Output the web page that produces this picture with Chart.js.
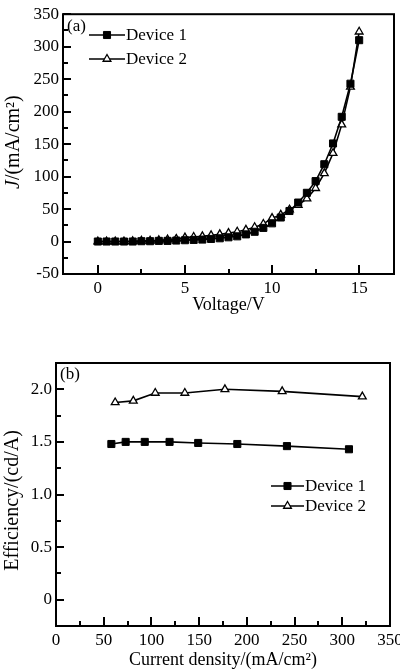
<!DOCTYPE html>
<html>
<head>
<meta charset="utf-8">
<title>Device J-V and efficiency</title>
<script src="https://cdn.jsdelivr.net/npm/chart.js@4.4.1/dist/chart.umd.min.js"></script>
<style>
  html, body { margin: 0; padding: 0; background: #fff; overflow: hidden; }
  #wrap { position: relative; width: 400px; height: 672px; overflow: hidden; }
  canvas { position: absolute; left: 0; }
  #chartA { top: 0; }
  #chartB { top: 335px; }
</style>
</head>
<body>
<div id="wrap">
  <canvas id="chartA" width="400" height="335"></canvas>
  <canvas id="chartB" width="430" height="337"></canvas>
</div>
<script>
// ==========================================
// DATA
// ==========================================
// (a) current density vs voltage
const voltage  = [0, 0.5, 1, 1.5, 2, 2.5, 3, 3.5, 4, 4.5, 5, 5.5, 6, 6.5, 7, 7.5,
                  8, 8.5, 9, 9.5, 10, 10.5, 11, 11.5, 12, 12.5, 13, 13.5, 14, 14.5, 15];
const jDevice1 = [0, 0, 0, 0, 0, 0.5, 0.5, 1, 1, 1.5, 2, 2.5, 3, 4, 5, 6.5,
                  8, 11, 15, 21, 28, 37, 47, 60, 75, 93, 119, 151, 192, 243, 310];
const jDevice2 = [0, 0, 0, 0, 0.5, 1, 1, 2, 3, 4, 6, 7, 8, 9.5, 11, 13,
                  15, 18, 22, 27, 36, 41, 49, 56, 66, 82, 105, 136, 180, 238, 323];

// (b) efficiency vs current density
const currentDevice1 = [58, 73, 93, 119, 149, 190, 242, 307];
const effDevice1     = [1.48, 1.50, 1.50, 1.50, 1.49, 1.48, 1.46, 1.43];
const currentDevice2 = [62, 81, 104, 135, 177, 237, 321];
const effDevice2     = [1.875, 1.89, 1.965, 1.965, 2.0, 1.98, 1.93];

// tick labels
const voltageTicks = [0, 5, 10, 15];
const jTicks       = [-50, 0, 50, 100, 150, 200, 250, 300, 350];
const currentTicks = [0, 50, 100, 150, 200, 250, 300, 350];
const effTicks     = [0, 0.5, 1.0, 1.5, 2.0];

const seriesNames = ['Device 1', 'Device 2'];

// ==========================================
// HELPERS
// ==========================================
const SERIF = '"Liberation Serif", "Times New Roman", serif';
Chart.defaults.font.family = SERIF;
Chart.defaults.color = '#000';

function toPoints(xs, ys) {
    return xs.map((x, i) => ({ x: x, y: ys[i] }));
}

function fixedTicks(list) {
    return function(scale) { scale.ticks = list.map(v => ({ value: v })); };
}

const squareStyle = { pointStyle: 'rect', pointRadius: 5, pointBackgroundColor: '#000',
                      pointBorderColor: '#000', pointBorderWidth: 1 };
const triangleStyle = { pointStyle: 'triangle', pointRadius: 4.5, pointBackgroundColor: '#fff',
                        pointBorderColor: '#000', pointBorderWidth: 1.3 };

function makeDataset(label, pts, style) {
    return Object.assign({
        label: label, data: pts, borderColor: '#000', borderWidth: 1.6,
        tension: 0, showLine: true, fill: false
    }, style);
}

// draws text rotated 90deg, parts may carry their own font (for italic J)
function drawRotated(ctx, parts, cx, cy) {
    ctx.save();
    ctx.translate(cx, cy);
    ctx.rotate(-Math.PI / 2);
    let total = 0;
    parts.forEach(p => { ctx.font = p.font; total += ctx.measureText(p.text).width; });
    let x = -total / 2;
    ctx.textAlign = 'left';
    ctx.textBaseline = 'middle';
    parts.forEach(p => {
        ctx.font = p.font;
        ctx.fillText(p.text, x, 0);
        x += ctx.measureText(p.text).width;
    });
    ctx.restore();
}

// frame, inward ticks, axis titles, panel label and line+marker legend
const decor = {
    id: 'decor',
    afterDatasetsDraw(chart, args, o) {
        const ctx = chart.ctx, a = chart.chartArea;
        const xs = chart.scales.x, ys = chart.scales.y;
        ctx.save();
        ctx.strokeStyle = '#000';
        ctx.fillStyle = '#000';
        ctx.lineWidth = 2;
        ctx.strokeRect(a.left, a.top, a.right - a.left, a.bottom - a.top);

        ctx.beginPath();
        for (let i = 0; o.xFrom + i * o.xStep <= o.xTo + 1e-9; i++) {
            const px = Math.round(xs.getPixelForValue(o.xFrom + i * o.xStep));
            ctx.moveTo(px, a.bottom);
            ctx.lineTo(px, a.bottom - (i % 2 === 0 ? 9 : 5));
        }
        for (let i = 0; o.yFrom + i * o.yStep <= o.yTo + 1e-9; i++) {
            const py = Math.round(ys.getPixelForValue(o.yFrom + i * o.yStep));
            ctx.moveTo(a.left, py);
            ctx.lineTo(a.left + (i % 2 === 0 ? 8 : 5), py);
        }
        ctx.stroke();

        // axis titles
        const font = '17px ' + SERIF;
        ctx.font = '18px ' + SERIF;
        ctx.textAlign = 'center';
        ctx.textBaseline = 'middle';
        ctx.fillText(o.xTitle, (a.left + a.right) / 2, o.xTitleY);
        drawRotated(ctx, o.yTitle.map(t => ({ text: t.text, font: (t.italic ? 'italic ' : '') + '20px ' + SERIF })),
                    o.yTitleX, (a.top + a.bottom) / 2 + o.yTitleDy);

        // panel label
        ctx.font = font;
        ctx.textAlign = 'left';
        ctx.fillText(o.panel, a.left + 4, a.top + o.panelDy);

        // legend
        const lg = o.legend;
        chart.data.datasets.forEach((ds, i) => {
            const y = lg.y + i * lg.gap;
            ctx.strokeStyle = '#000';
            ctx.lineWidth = 1.6;
            ctx.beginPath();
            ctx.moveTo(lg.x, y);
            ctx.lineTo(lg.x + lg.len, y);
            ctx.stroke();
            ctx.fillStyle = ds.pointBackgroundColor;
            ctx.strokeStyle = ds.pointBorderColor;
            ctx.lineWidth = ds.pointBorderWidth;
            Chart.helpers.drawPoint(ctx, { pointStyle: ds.pointStyle, radius: ds.pointRadius,
                rotation: 0, borderWidth: ds.pointBorderWidth }, lg.x + lg.len / 2, y);
            ctx.fillStyle = '#000';
            ctx.font = font;
            ctx.textAlign = 'left';
            ctx.textBaseline = 'middle';
            ctx.fillText(ds.label, lg.x + lg.len + 1, y + 1);
        });
        ctx.restore();
    }
};

function axisBase(ticksList, fit, extra) {
    return Object.assign({
        type: 'linear',
        afterBuildTicks: fixedTicks(ticksList),
        afterFit: fit,
        grid: { display: false, drawTicks: false },
        border: { display: false },
        ticks: { font: { size: 17 }, color: '#000', autoSkip: false, maxRotation: 0, padding: 4 }
    }, extra);
}

// ==========================================
// (a) J-V CHART
// ==========================================
new Chart(document.getElementById('chartA'), {
    type: 'scatter',
    data: {
        datasets: [
            makeDataset(seriesNames[0], toPoints(voltage, jDevice1), squareStyle),
            makeDataset(seriesNames[1], toPoints(voltage, jDevice2), triangleStyle)
        ]
    },
    options: {
        responsive: false,
        animation: false,
        layout: { padding: { left: 0, right: 3, top: 12, bottom: 0 } },
        scales: {
            x: axisBase(voltageTicks, s => { s.height = 61; }, { min: -2, max: 17 }),
            y: axisBase(jTicks, s => { s.width = 63; }, { min: -50, max: 350 })
        },
        plugins: {
            legend: { display: false },
            tooltip: { enabled: false },
            decor: {
                xFrom: 0, xTo: 15, xStep: 2.5,
                yFrom: -50, yTo: 350, yStep: 25,
                xTitle: 'Voltage/V', xTitleY: 305,
                yTitle: [{ text: 'J', italic: true }, { text: '/(mA/cm²)' }], yTitleX: 14, yTitleDy: -2,
                panel: '(a)', panelDy: 12,
                legend: { x: 89, y: 35, gap: 24, len: 36 }
            }
        }
    },
    plugins: [decor]
});

// ==========================================
// (b) EFFICIENCY CHART
// ==========================================
new Chart(document.getElementById('chartB'), {
    type: 'scatter',
    data: {
        datasets: [
            makeDataset(seriesNames[0], toPoints(currentDevice1, effDevice1), squareStyle),
            makeDataset(seriesNames[1], toPoints(currentDevice2, effDevice2), triangleStyle)
        ]
    },
    options: {
        responsive: false,
        animation: false,
        layout: { padding: { left: 0, right: 40, top: 28, bottom: 0 } },
        scales: {
            x: axisBase(currentTicks, s => { s.height = 46; }, { min: 0, max: 350 }),
            y: axisBase(effTicks, s => { s.width = 56; }, {
                min: -0.25, max: 2.25,
                ticks: { font: { size: 17 }, color: '#000', autoSkip: false, padding: 4,
                         callback: v => (v === 0 ? '0' : v.toFixed(1)) }
            })
        },
        plugins: {
            legend: { display: false },
            tooltip: { enabled: false },
            decor: {
                xFrom: 0, xTo: 350, xStep: 25,
                yFrom: 0, yTo: 2.25, yStep: 0.25,
                xTitle: 'Current density/(mA/cm²)', xTitleY: 325,
                yTitle: [{ text: 'Efficiency/(cd/A)' }], yTitleX: 13, yTitleDy: 6,
                panel: '(b)', panelDy: 12,
                legend: { x: 271, y: 151, gap: 20, len: 33 }
            }
        }
    },
    plugins: [decor]
});
</script>
</body>
</html>
